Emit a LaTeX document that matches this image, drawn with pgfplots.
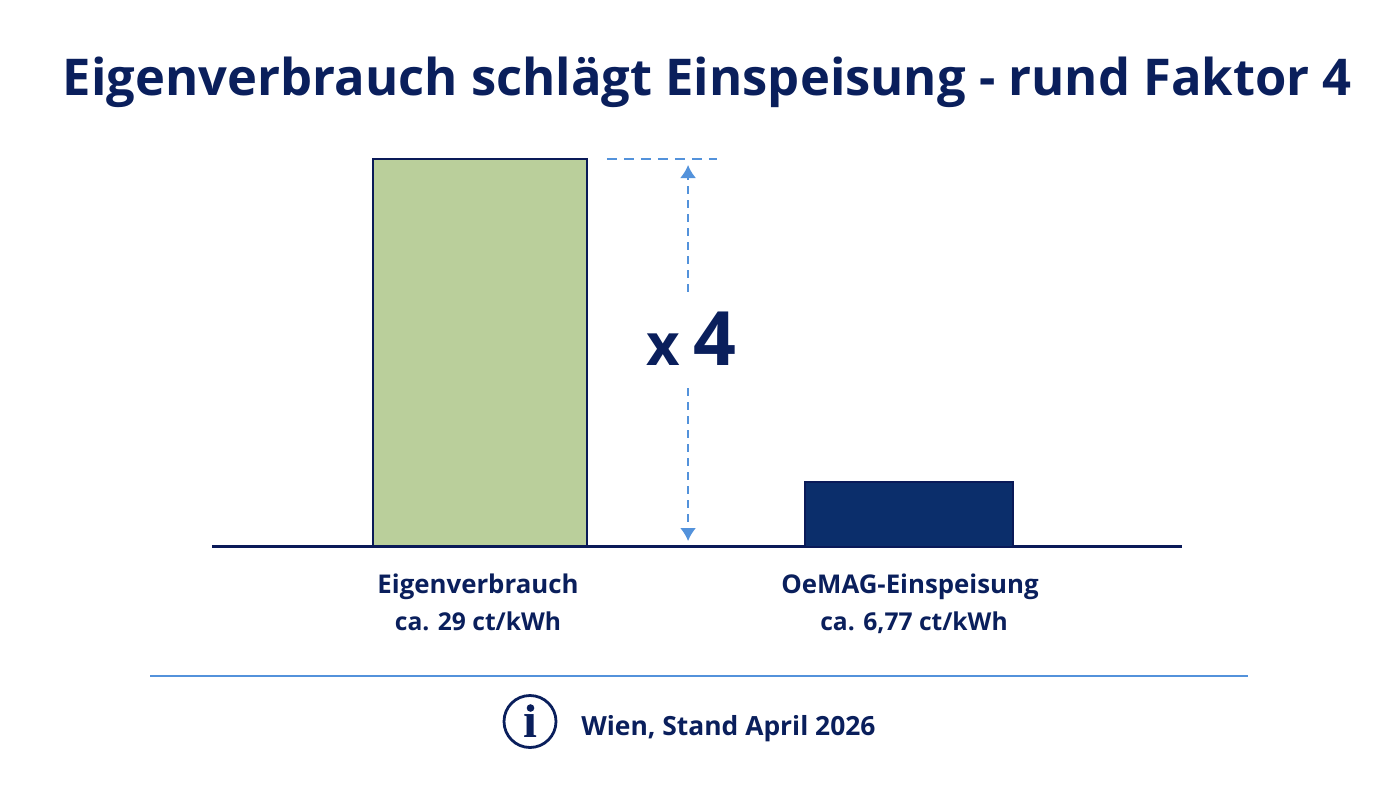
\documentclass[border=0pt]{standalone}
\usepackage{fontspec}
\setmainfont{Open Sans}
\usepackage{pgfplots}
\pgfplotsset{compat=1.18}
\usetikzlibrary{arrows.meta}
\definecolor{navy}{HTML}{0A1F5C}
\definecolor{barnavy}{HTML}{0B2E6B}
\definecolor{barline}{HTML}{0A1A58}
\definecolor{green}{HTML}{BACF9B}
\definecolor{lblue}{HTML}{5392DB}
\newcommand{\sline}{\fontsize{12.3pt}{18.5pt}\selectfont}
\begin{document}
\begin{tikzpicture}
\path[use as bounding box,fill=white] (0pt,0pt) rectangle (700pt,394pt);
\begin{axis}[
  at={(106pt,120.75pt)},anchor=south west,
  scale only axis,width=485pt,height=193.75pt,
  xmin=-0.6247,xmax=1.6364,ymin=0,ymax=29,
  enlargelimits=false,clip=false,
  axis x line=bottom,axis y line=none,
  axis line style={-,draw=barline,line width=1.1pt},
  xtick={0,1},
  xticklabels={{Eigenverbrauch\\[0.4pt]\sline ca. 29 ct/kWh},{\hspace*{3pt}OeMAG-Einspeisung\\[0.4pt]\sline\hspace*{7pt}ca. 6,77 ct/kWh}},
  major tick length=0pt,
  xticklabel style={align=center,font=\fontsize{12.9pt}{18.5pt}\selectfont\bfseries,text=navy,yshift=-10pt,xshift=-1pt},
]
\addplot[ybar,bar shift=0pt,bar width=107pt,fill=green,draw=barline,line width=1.4pt] coordinates {(0,29)};
\addplot[ybar,bar shift=0pt,bar width=104pt,fill=barnavy,draw=barline,line width=1pt] coordinates {(1,4.83)};
\addplot[lblue,line width=1pt,dash pattern=on 5pt off 3.5pt] coordinates {(0.296,29) (0.552,29)};
\addplot[lblue,line width=1pt,dash pattern=on 4pt off 3pt,-{Latex[length=6.5pt,width=8pt]}] coordinates {(0.485,19.05) (0.485,28.55)};
\addplot[lblue,line width=1pt,dash pattern=on 4pt off 3pt,-{Latex[length=6.5pt,width=8pt]}] coordinates {(0.485,11.86) (0.485,0.41)};
\end{axis}
\begin{scope}[shift={(0pt,394pt)},x=0.5pt,y=-0.5pt]
\node[anchor=base,text=navy,font=\fontsize{25.35pt}{30pt}\selectfont\bfseries] at (707.5,96) {Eigenverbrauch schlägt Einspeisung - rund Faktor 4};
\node[anchor=base,text=navy,font=\fontsize{29pt}{36pt}\selectfont\bfseries] at (663.5,365) {x};
\node[anchor=base,text=navy,font=\fontsize{37.5pt}{44pt}\selectfont\bfseries] at (715,365) {4};
\draw[lblue,line width=0.9pt] (150,676) -- (1248,676);
\draw[navy,line width=1.4pt] (530,721.5) circle (26);
\fill[navy] (530.5,708) circle (3.8);
\node[anchor=base,text=navy,font=\fontsize{25pt}{28pt}\selectfont\fontspec{Liberation Serif}\bfseries,inner sep=0pt] at (530,737) {ı};
\node[anchor=base west,inner sep=0pt,text=navy,font=\fontsize{13.2pt}{16pt}\selectfont\bfseries] at (581,735) {Wien, Stand April 2026};
\end{scope}
\end{tikzpicture}
\end{document}
